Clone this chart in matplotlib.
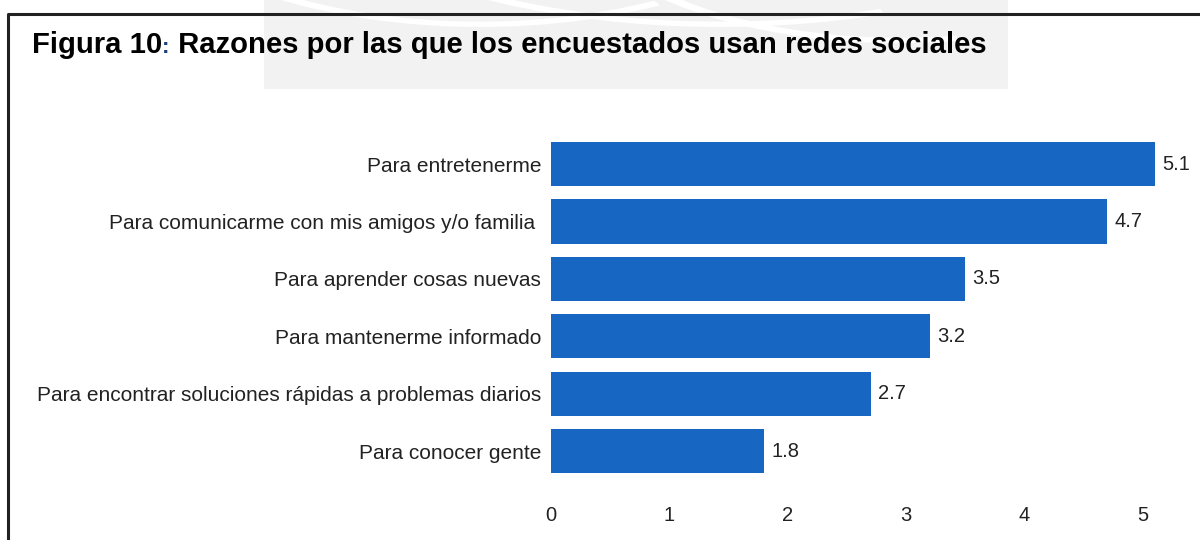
import matplotlib.pyplot as plt
from matplotlib.patches import Rectangle, Wedge
from matplotlib.lines import Line2D

plt.rcParams['font.family'] = ['Liberation Sans', 'DejaVu Sans']

razones = [
    "Para entretenerme",
    "Para comunicarme con mis amigos y/o familia ",
    "Para aprender cosas nuevas",
    "Para mantenerme informado",
    "Para encontrar soluciones rápidas a problemas diarios",
    "Para conocer gente",
]
valores = [5.1, 4.7, 3.5, 3.2, 2.7, 1.8]
ticks_x = [0, 1, 2, 3, 4, 5]

azul = "#1766c2"

fig = plt.figure(figsize=(12, 5.4), dpi=100)
fig.patch.set_facecolor("white")

# marca de agua tenue en la parte superior
fig.patches.append(Rectangle((0.22, 0.835), 0.62, 0.165, transform=fig.transFigure,
                             facecolor="#f2f2f2", edgecolor="none", zorder=0))
for cx, cy, r, a1, a2 in [(0.40, 1.25, 0.30, 230, 300), (0.60, 1.35, 0.40, 240, 290),
                          (0.75, 1.20, 0.28, 220, 280)]:
    fig.patches.append(Wedge((cx, cy), r, a1, a2, width=0.01, transform=fig.transFigure,
                             facecolor="white", edgecolor="none", zorder=0.5))

# marco de la figura
fig.lines.append(Line2D([8 / 1200, 8 / 1200, 1.0], [0.0, 1 - 14 / 540, 1 - 14 / 540],
                        transform=fig.transFigure, color="#222222", linewidth=2.2))

ax = fig.add_axes([0.459, 0.101, 0.523, 0.659])
ax.set_facecolor("none")
y = range(len(razones))
ax.barh(y, valores, height=0.77, color=azul)
for yi, v in zip(y, valores):
    ax.text(v + 0.06, yi, f"{v:.1f}", va="center", ha="left", fontsize=14.5, color="#222222")

ax.set_xlim(0, 5.3)
ax.set_ylim(len(razones) - 0.4, -0.6)
ax.set_yticks(list(y))
ax.set_yticklabels(razones, fontsize=15, color="#222222")
ax.set_xticks(ticks_x)
ax.set_xticklabels([str(t) for t in ticks_x], fontsize=14.5, color="#222222")
ax.tick_params(axis="both", length=0)
ax.tick_params(axis="y", pad=7)
ax.tick_params(axis="x", pad=15)
for s in ax.spines.values():
    s.set_visible(False)

# título con los dos puntos en azul oscuro
ty = 1 - 53 / 540
t1 = fig.text(32 / 1200, ty, "Figura 10", fontsize=21.1, fontweight="bold", va="baseline")
fig.canvas.draw()
r = fig.canvas.get_renderer()
bb = t1.get_window_extent(r)
t2 = fig.text(bb.x1 / 1200, ty, ":", fontsize=16, fontweight="bold", color="#1f3f7a", va="baseline")
bb2 = t2.get_window_extent(r)
fig.text(bb2.x1 / 1200, ty, " Razones por las que los encuestados usan redes sociales",
         fontsize=21.1, fontweight="bold", va="baseline")

fig.savefig("out.png", dpi=100)
